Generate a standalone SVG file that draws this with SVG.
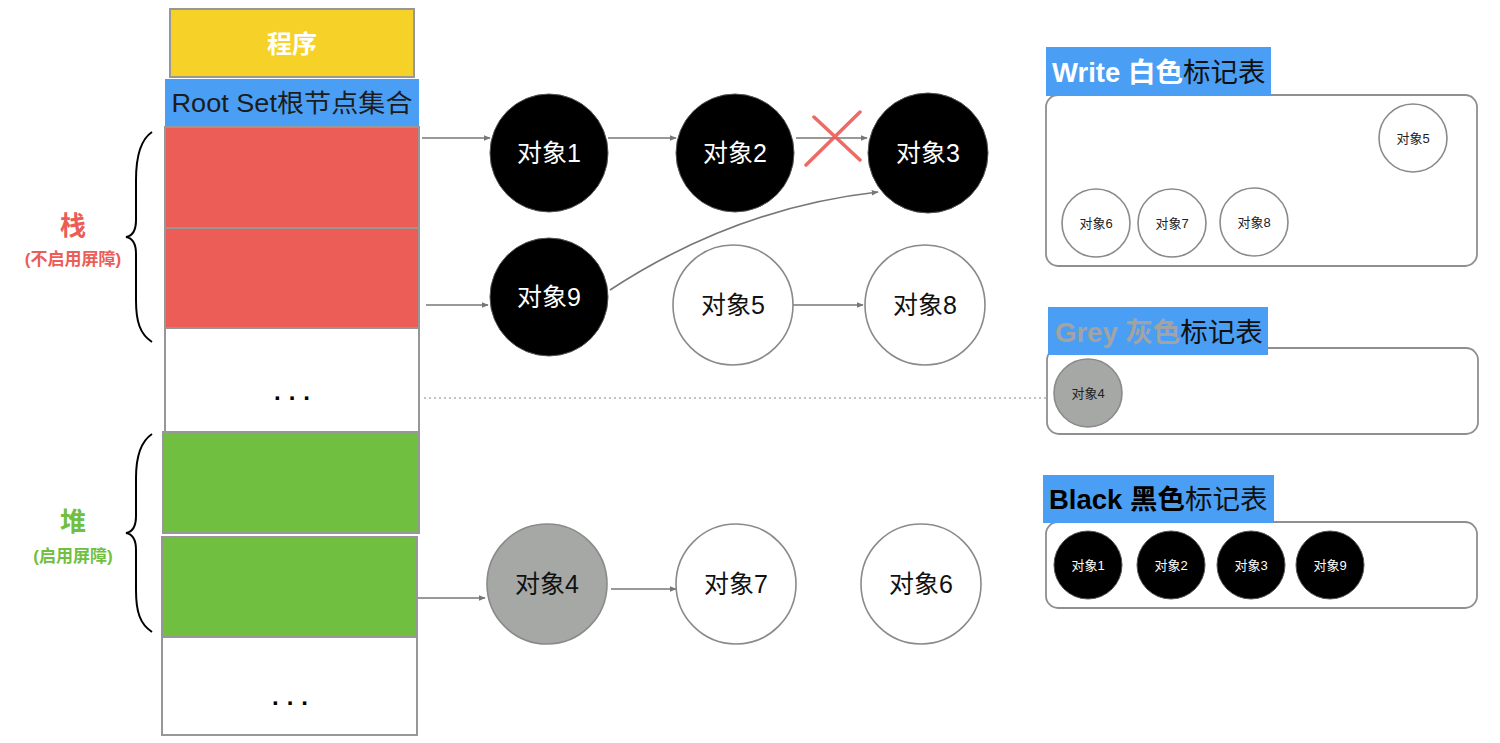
<svg xmlns="http://www.w3.org/2000/svg" width="1500" height="743" viewBox="0 0 1500 743">
<defs>
<style>
.t{font-family:"Liberation Sans","Noto Sans CJK SC",sans-serif}
.box{stroke:#979797;stroke-width:2}
.big{font-size:25px;text-anchor:middle}
.sm{font-size:13px;text-anchor:middle}
.wc{fill:#fff;stroke:#8a8a8a;stroke-width:1.6}
.bc{fill:#000;stroke:#555;stroke-width:1}
.gc{fill:#a6a8a6;stroke:#8a8a8a;stroke-width:1.6}
.edge{stroke:#777;stroke-width:1.7;fill:none;marker-end:url(#ah)}
.tbl{fill:#fff;stroke:#8f8f8f;stroke-width:1.8}
.lbl{fill:#4a9ff5}
.brace{fill:none;stroke:#000;stroke-width:2}
.hd{font-size:27.5px}
</style>
<marker id="ah" viewBox="0 0 10 10" refX="9" refY="5" markerWidth="7" markerHeight="7" orient="auto" markerUnits="userSpaceOnUse">
<path d="M0,1 L10,5 L0,9 z" fill="#777"/>
</marker>
</defs>
<rect width="1500" height="743" fill="#fff"/>

<g id="program">
<rect x="170" y="9" width="244" height="68" fill="#f6d229" class="box"/>
<text x="292" y="53" class="t" font-size="25" font-weight="bold" fill="#fff" text-anchor="middle">程序</text>
</g>
<g id="rootset">
<rect x="165" y="79" width="254" height="47" fill="#4a9ff5"/>
<text x="292" y="112" class="t" font-size="25" fill="#1c1c1c" text-anchor="middle" textLength="241" lengthAdjust="spacingAndGlyphs">Root Set根节点集合</text>
</g>
<g id="stack1"><rect x="165" y="127" width="254" height="101" fill="#ec5d57" class="box"/></g>
<g id="stack2"><rect x="165" y="228" width="254" height="100" fill="#ec5d57" class="box"/></g>
<g id="stack3">
<rect x="165" y="328" width="254" height="104" fill="#fff" class="box"/>
<text x="296" y="400" class="t" font-size="24" font-weight="bold" fill="#000" text-anchor="middle" letter-spacing="8">...</text>
</g>
<g id="heap1"><rect x="163" y="432" width="256" height="101" fill="#70bf41" class="box"/></g>
<g id="heap2"><rect x="162" y="537" width="255" height="100" fill="#70bf41" class="box"/></g>
<g id="heap3">
<rect x="162" y="637" width="255" height="98" fill="#fff" class="box"/>
<text x="294" y="705" class="t" font-size="24" font-weight="bold" fill="#000" text-anchor="middle" letter-spacing="8">...</text>
</g>

<g id="stack-label">
<path class="brace" d="M152,132 C140,140 136,158 136,180 L136,220 C136,231 132,236 126,237 C132,238 136,243 136,254 L136,300 C136,322 140,334 152,342"/>
<text x="73" y="235" class="t" font-size="26" font-weight="bold" fill="#ec5d57" text-anchor="middle">栈</text>
<text x="73" y="265" class="t" font-size="17" font-weight="bold" fill="#ec5d57" text-anchor="middle">(不启用屏障)</text>
</g>
<g id="heap-label">
<path class="brace" d="M152,434 C140,442 136,458 136,478 L136,516 C136,527 132,532 126,533 C132,534 136,539 136,550 L136,590 C136,612 140,624 152,632"/>
<text x="73" y="531" class="t" font-size="26" font-weight="bold" fill="#70bf41" text-anchor="middle">堆</text>
<text x="73" y="562" class="t" font-size="17" font-weight="bold" fill="#70bf41" text-anchor="middle">(启用屏障)</text>
</g>

<g id="connectors">
<line class="edge" x1="422" y1="138" x2="490" y2="138"/>
<line class="edge" x1="608" y1="138" x2="676" y2="138"/>
<line class="edge" x1="796" y1="138" x2="867" y2="138"/>
<path class="edge" d="M610,290 Q735,208 878,192"/>
<line class="edge" x1="426" y1="305" x2="488" y2="305"/>
<line class="edge" x1="793" y1="305" x2="863" y2="305"/>
<line class="edge" x1="418" y1="598" x2="485" y2="598"/>
<line class="edge" x1="611" y1="589" x2="676" y2="589"/>
<line x1="424" y1="398" x2="1046" y2="398" stroke="#b0b0b0" stroke-width="1.3" stroke-dasharray="2,3"/>
<g id="cut" stroke="#ec5a55" stroke-width="3.5" stroke-linecap="round" opacity="0.9">
<line x1="814" y1="117" x2="860" y2="160"/>
<line x1="860" y1="112" x2="806" y2="165"/>
</g>
</g>

<g id="obj1"><circle cx="549" cy="153" r="59" class="bc"/><text x="549" y="162" class="t big" fill="#fff">对象1</text></g>
<g id="obj2"><circle cx="735" cy="153" r="59" class="bc"/><text x="735" y="162" class="t big" fill="#fff">对象2</text></g>
<g id="obj3"><circle cx="928" cy="153" r="60" class="bc"/><text x="928" y="162" class="t big" fill="#fff">对象3</text></g>
<g id="obj9"><circle cx="549" cy="297" r="59" class="bc"/><text x="549" y="306" class="t big" fill="#fff">对象9</text></g>
<g id="obj5"><circle cx="733" cy="305" r="60" class="wc"/><text x="733" y="314" class="t big" fill="#111">对象5</text></g>
<g id="obj8"><circle cx="925" cy="305" r="60" class="wc"/><text x="925" y="314" class="t big" fill="#111">对象8</text></g>
<g id="obj4"><circle cx="547" cy="584" r="60" class="gc"/><text x="547" y="593" class="t big" fill="#111">对象4</text></g>
<g id="obj7"><circle cx="736" cy="584" r="60" class="wc"/><text x="736" y="593" class="t big" fill="#111">对象7</text></g>
<g id="obj6"><circle cx="921" cy="584" r="60" class="wc"/><text x="921" y="593" class="t big" fill="#111">对象6</text></g>

<g id="white-table">
<rect x="1046" y="95" width="431" height="171" rx="12" class="tbl"/>
<rect x="1046" y="47" width="225" height="49" class="lbl"/>
<text x="1052" y="82" class="t hd"><tspan font-weight="bold" fill="#fff">Write 白色</tspan><tspan fill="#111">标记表</tspan></text>
<circle cx="1413" cy="138" r="34" class="wc"/><text x="1413" y="143" class="t sm" fill="#222">对象5</text>
<circle cx="1096" cy="223" r="34" class="wc"/><text x="1096" y="228" class="t sm" fill="#222">对象6</text>
<circle cx="1172" cy="223" r="34" class="wc"/><text x="1172" y="228" class="t sm" fill="#222">对象7</text>
<circle cx="1254" cy="222" r="34" class="wc"/><text x="1254" y="227" class="t sm" fill="#222">对象8</text>
</g>

<g id="grey-table">
<rect x="1047" y="348" width="431" height="86" rx="12" class="tbl"/>
<rect x="1048" y="307" width="220" height="48" class="lbl"/>
<text x="1055" y="342" class="t hd"><tspan font-weight="bold" fill="#a3a3a3">Grey 灰色</tspan><tspan fill="#111">标记表</tspan></text>
<circle cx="1088" cy="393" r="34" class="gc"/><text x="1088" y="398" class="t sm" fill="#222">对象4</text>
</g>

<g id="black-table">
<rect x="1046" y="522" width="431" height="86" rx="12" class="tbl"/>
<rect x="1043" y="475" width="231" height="48" class="lbl"/>
<text x="1049" y="509" class="t hd"><tspan font-weight="bold" fill="#000">Black 黑色</tspan><tspan fill="#111">标记表</tspan></text>
<circle cx="1088" cy="565" r="34" class="bc"/><text x="1088" y="570" class="t sm" fill="#fff">对象1</text>
<circle cx="1171" cy="565" r="34" class="bc"/><text x="1171" y="570" class="t sm" fill="#fff">对象2</text>
<circle cx="1251" cy="565" r="34" class="bc"/><text x="1251" y="570" class="t sm" fill="#fff">对象3</text>
<circle cx="1330" cy="565" r="34" class="bc"/><text x="1330" y="570" class="t sm" fill="#fff">对象9</text>
</g>
</svg>
